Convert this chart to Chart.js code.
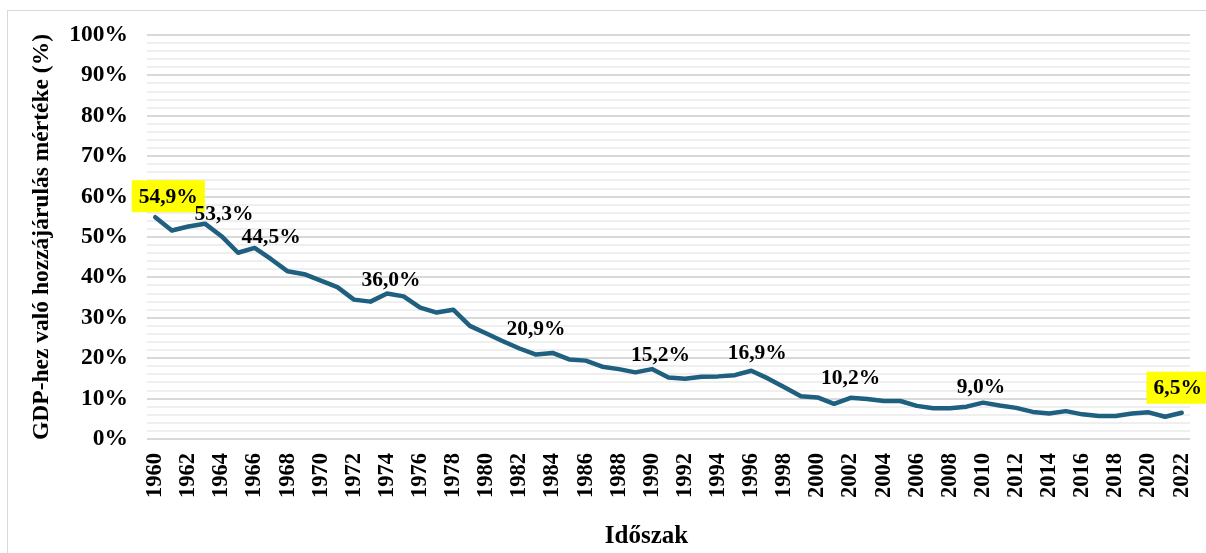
<!DOCTYPE html>
<html>
<head>
<meta charset="utf-8">
<script src="https://cdn.jsdelivr.net/npm/chart.js@4"></script>
<style>
  body { margin: 0; background: #fff; }
  #frame { position: absolute; left: 7px; top: 10px; width: 1210px; height: 560px; border: 1px solid #d9d9d9; }
  #wrap { position: absolute; left: 0; top: 0; width: 1206px; height: 553px; }
</style>
</head>
<body>
<div id="frame"></div>
<div id="wrap"><canvas id="chart"></canvas></div>
<script>
// years on the x axis
const years = [
  '1960', '1961', '1962', '1963', '1964', '1965', '1966', '1967', '1968', '1969',
  '1970', '1971', '1972', '1973', '1974', '1975', '1976', '1977', '1978', '1979',
  '1980', '1981', '1982', '1983', '1984', '1985', '1986', '1987', '1988', '1989',
  '1990', '1991', '1992', '1993', '1994', '1995', '1996', '1997', '1998', '1999',
  '2000', '2001', '2002', '2003', '2004', '2005', '2006', '2007', '2008', '2009',
  '2010', '2011', '2012', '2013', '2014', '2015', '2016', '2017', '2018', '2019',
  '2020', '2021', '2022'
]

// share of GDP (%)
const shares = [
  54.9, 51.6, 52.6, 53.3, 50.2, 46.1, 47.3, 44.5, 41.5, 40.8,
  39.2, 37.6, 34.5, 34.0, 36.0, 35.3, 32.5, 31.3, 32.0, 28.0,
  26.1, 24.2, 22.4, 20.9, 21.3, 19.7, 19.4, 17.9, 17.3, 16.5,
  17.3, 15.2, 14.9, 15.4, 15.5, 15.8, 16.9, 15.0, 12.8, 10.6,
  10.3, 8.7, 10.2, 9.9, 9.4, 9.4, 8.2, 7.6, 7.6, 8.0,
  9.0, 8.3, 7.7, 6.7, 6.3, 6.9, 6.1, 5.7, 5.7, 6.3,
  6.6, 5.5, 6.5
]

// which points carry a value label, and which of those are highlighted
const labelledYears = ['1960', '1963', '1967', '1974', '1983', '1991', '1996', '2002', '2010', '2022']
const highlightedYears = ['1960', '2022']

// label placement relative to its point (px)
const labelOffsets = {
  1960: [13, -21], 1963: [19, -10], 1967: [0, -23], 1974: [4, -14], 1983: [0, -26],
  1991: [-8, -23], 1996: [6, -18], 2002: [0, -20], 2010: [-2, -16], 2022: [-4, -25]
}

const serif = '"Liberation Serif", "Times New Roman", serif'
Chart.defaults.font.family = serif
Chart.defaults.font.weight = 'bold'
Chart.defaults.color = '#000'

const fmt = (v) => v.toFixed(1).replace('.', ',') + '%'

// draws the value labels above selected points
const valueLabels = {
  id: 'valueLabels',
  afterDatasetsDraw (chart) {
    const ctx = chart.ctx
    const meta = chart.getDatasetMeta(0)
    ctx.save()
    ctx.font = 'bold 21.5px ' + serif
    ctx.textAlign = 'center'
    ctx.textBaseline = 'middle'
    labelledYears.forEach((yr) => {
      const i = years.indexOf(yr)
      const pt = meta.data[i]
      const [dx, dy] = labelOffsets[yr] || [0, -20]
      const x = pt.x + dx
      const y = pt.y + dy
      const text = fmt(shares[i])
      if (highlightedYears.includes(yr)) {
        const w = ctx.measureText(text).width
        ctx.fillStyle = '#ffff00'
        ctx.fillRect(x - w / 2 - 7, y - 16, w + 14, 32)
      }
      ctx.fillStyle = '#000'
      ctx.fillText(text, x, y + 1)
    })
    ctx.restore()
  }
}

// x axis title, a little left of the plot centre as in the original
const xTitle = {
  id: 'xTitle',
  afterDraw (chart) {
    const ctx = chart.ctx
    const area = chart.chartArea
    ctx.save()
    ctx.font = 'bold 25px ' + serif
    ctx.textAlign = 'center'
    ctx.textBaseline = 'middle'
    ctx.fillStyle = '#000'
    ctx.fillText('Időszak', (area.left + area.right) / 2 - 22, 537)
    ctx.restore()
  }
}

new Chart(document.getElementById('chart'), {
  type: 'line',
  data: {
    labels: years,
    datasets: [
      {
        label: 'GDP-hez való hozzájárulás',
        data: shares,
        borderColor: '#1f5f7f',
        borderWidth: 4.5,
        pointRadius: 0,
        tension: 0,
        borderJoinStyle: 'round',
        borderCapStyle: 'round'
      }
    ]
  },
  options: {
    responsive: true,
    maintainAspectRatio: false,
    animation: false,
    layout: { padding: { top: 35, left: 24, right: 16, bottom: 0 } },
    plugins: {
      legend: { display: false },
      tooltip: { enabled: false }
    },
    scales: {
      x: {
        offset: true,
        grid: { display: false, drawTicks: false },
        border: { display: false },
        ticks: {
          autoSkip: false,
          minRotation: 90,
          maxRotation: 90,
          padding: 14,
          font: { size: 22.5, weight: 'bold' },
          callback: (v, i) => (i % 2 === 0 ? years[i] : '')
        },
        afterFit: (scale) => {
          scale.height = 114
          scale.paddingLeft = 0
          scale.paddingRight = 0
        }
      },
      y: {
        min: 0,
        max: 100,
        grid: {
          drawTicks: false,
          lineWidth: 2,
          color: (c) => (c.tick && c.tick.value % 10 === 0 ? '#d9d9d9' : '#efefef')
        },
        border: { display: false },
        ticks: {
          stepSize: 2,
          autoSkip: false,
          padding: 19,
          font: { size: 23.5, weight: 'bold' },
          callback: (v) => (v % 10 === 0 ? v + '%' : '')
        },
        title: {
          display: true,
          text: 'GDP-hez való hozzájárulás mértéke (%)',
          font: { size: 23.5, weight: 'bold' },
          padding: 4
        },
        afterFit: (scale) => { scale.width = 123 }
      }
    }
  },
  plugins: [valueLabels, xTitle]
})
</script>
</body>
</html>
